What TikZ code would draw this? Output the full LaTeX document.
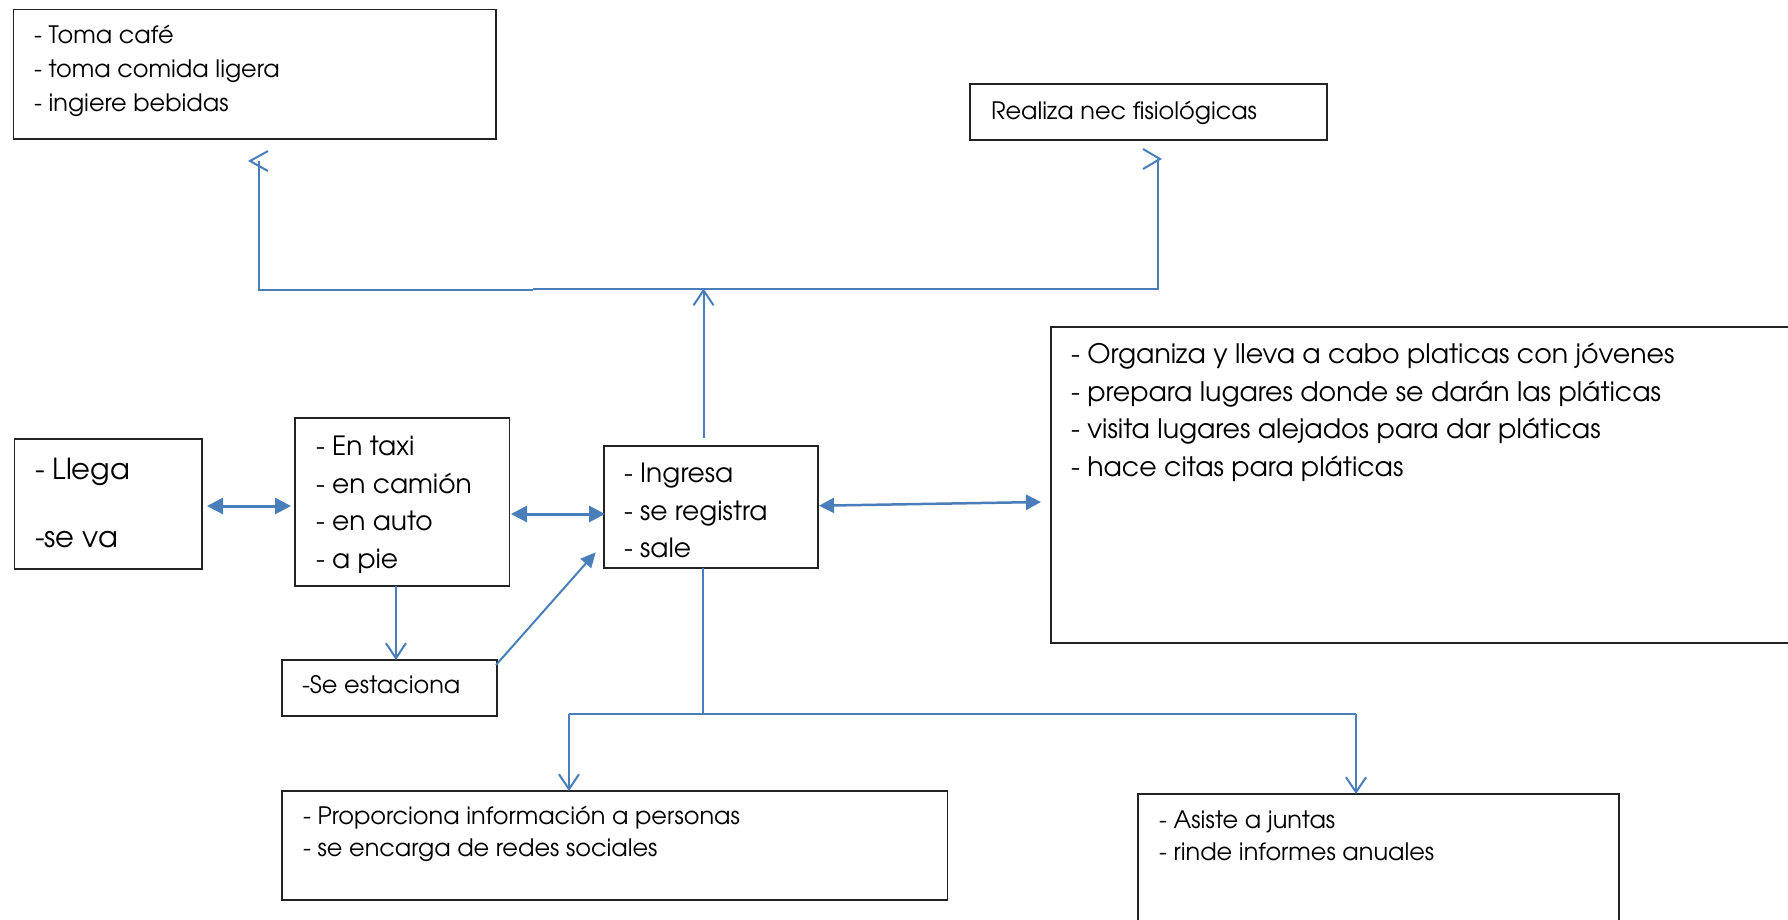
\documentclass[tikz,border=0pt]{standalone}
\usepackage{fontspec}
\setmainfont{TeX Gyre Adventor}
\usetikzlibrary{arrows.meta}
\definecolor{linkblue}{RGB}{74,126,187}
\definecolor{boxline}{RGB}{35,35,35}
\begin{document}
\begin{tikzpicture}[x=1pt,y=-1pt,
  box/.style={draw=boxline,line width=1.6pt,inner sep=0pt,outer sep=0pt,anchor=north west},
  txt/.style={anchor=base west,inner sep=0pt,outer sep=0pt},
  link/.style={draw=linkblue,line width=2pt},
  boldlink/.style={draw=linkblue,line width=3pt},
  barb/.style={-{Straight Barb[length=15pt,width=20pt,line width=2pt]}},
  twohead/.style={{Triangle[length=16pt,width=16pt]}-{Triangle[length=16pt,width=16pt]}},
  onehead/.style={-{Triangle[length=15pt,width=14pt]}},
  fa/.style={font=\fontsize{24}{28}\selectfont},
  fb/.style={font=\fontsize{29}{33}\selectfont},
  fc/.style={font=\fontsize{26.5}{30}\selectfont},
  fe/.style={font=\fontsize{26.8}{31}\selectfont},
  fd/.style={font=\fontsize{24}{28}\selectfont},
]
\useasboundingbox (0,0) rectangle (1788,919);
\clip (0,0) rectangle (1788,919);
\fill[white] (0,0) rectangle (1788,919);

% boxes
\node[box,minimum width=482.5pt,minimum height=129.5pt] (cafe) at (13.5,9.5) {};
\node[box,minimum width=357pt,minimum height=56pt] (real) at (970,84) {};
\node[box,minimum width=187.5pt,minimum height=130pt] (llega) at (14.5,439) {};
\node[box,minimum width=214.5pt,minimum height=168pt] (taxi) at (295,418) {};
\node[box,minimum width=214pt,minimum height=122pt] (ingresa) at (604,446) {};
\node[box,minimum width=215pt,minimum height=56pt] (estac) at (282,660) {};
\node[box,minimum width=760pt,minimum height=316pt] (big) at (1051,327) {};
\node[box,minimum width=665.5pt,minimum height=109pt] (prop) at (282,791) {};
\node[box,minimum width=481pt,minimum height=150pt] (asiste) at (1138,794) {};

% texts
\node[txt,fa] (cafeA) at (34,43) {- Toma café};
\node[txt,fa] (cafeB) at (34,77.5) {- toma comida ligera};
\node[txt,fa] (cafeC) at (34,111.5) {- ingiere bebidas};
\node[txt,fa] (realA) at (991,119.5) {Realiza nec fisiológicas};
\node[txt,fb] (llegaA) at (35,479) {- Llega};
\node[txt,fb] (llegaB) at (35,547) {-se va};
\node[txt,fc] (taxiA) at (316,455.7) {- En taxi};
\node[txt,fc] (taxiB) at (316,493.3) {- en camión};
\node[txt,fc] (taxiC) at (316,530.7) {- en auto};
\node[txt,fc] (taxiD) at (316,568.3) {- a pie};
\node[txt,fc] (ingA) at (624,482.3) {- Ingresa};
\node[txt,fc] (ingB) at (624,520) {- se registra};
\node[txt,fc] (ingC) at (624,557.3) {- sale};
\node[txt,fd] (estacA) at (302,693.3) {-Se estaciona};
\node[txt,fe] (bigA) at (1071,363) {- Organiza y lleva a cabo platicas con jóvenes};
\node[txt,fe] (bigB) at (1071,401) {- prepara lugares donde se darán las pláticas};
\node[txt,fe] (bigC) at (1071,438.7) {- visita lugares alejados para dar pláticas};
\node[txt,fe] (bigD) at (1071,476.7) {- hace citas para pláticas};
\node[txt,fd] (propA) at (303,824) {- Proporciona información a personas};
\node[txt,fd] (propB) at (303,856.7) {- se encarga de redes sociales};
\node[txt,fd] (asisA) at (1159,828.3) {- Asiste a juntas};
\node[txt,fd] (asisB) at (1159,860.7) {- rinde informes anuales};

% junctions
\coordinate (hub) at (703.5,288.5);
\coordinate (splitL) at (533,290);
\coordinate (cafeIn) at (259,161);
\coordinate (realIn) at (1158,159);
\coordinate (tdrop) at ([xshift=-6.3pt]taxi.south);
\coordinate (fork) at (703,714.3);
\coordinate (forkL) at (569,714.3);
\coordinate (forkR) at (1356,714.3);

% upward branch
\draw[link,barb] ([shift={(-7.5,-8)}]ingresa.north) -- (hub);
\draw[link] (splitL) -- (cafeIn |- splitL) -- (cafeIn);
\draw[link] (splitL |- hub) -- (realIn |- hub) -- (realIn);
\draw[link,line join=miter] ([shift={(9,-10)}]cafeIn) -- ([shift={(-9,0)}]cafeIn) -- ([shift={(9,10)}]cafeIn);
\draw[link,line join=miter] ([shift={(-15,-10)}]realIn) -- ([shift={(2,0)}]realIn) -- ([shift={(-15,10)}]realIn);

% horizontal links
\draw[boldlink,twohead] ([shift={(5,2)}]llega.east) -- ([shift={(-4,4)}]taxi.west);
\draw[boldlink,twohead] ([shift={(1.5,12)}]taxi.east) -- ([shift={(1,7)}]ingresa.west);
\draw[link,line width=2.5pt,{Triangle[length=15pt,width=15pt]}-{Triangle[length=15pt,width=15pt]}] ([shift={(1,-1.3)}]ingresa.east) -- ([shift={(-10,17)}]big.west);

% parking
\draw[link,barb] (tdrop) -- (tdrop |- estac.north);
\draw[link,onehead] ([shift={(-1,5)}]estac.north east) -- ([shift={(-8.3,-15.7)}]ingresa.south west);

% downward branch
\draw[link] ([xshift=-8pt]ingresa.south) -- (fork);
\draw[link] (forkL) -- (forkR);
\draw[link,barb] (forkL) -- (forkL |- prop.north);
\draw[link,barb] (forkR) -- (forkR |- asiste.north);
\end{tikzpicture}
\end{document}
